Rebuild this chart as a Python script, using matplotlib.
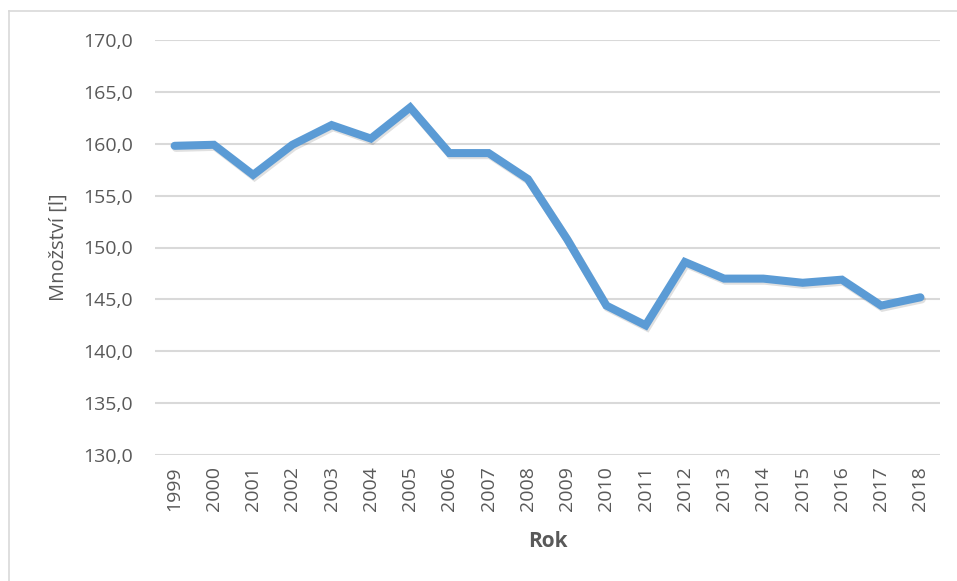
import matplotlib.pyplot as plt
import matplotlib.patheffects as pe
from matplotlib.lines import Line2D
from matplotlib.ticker import FuncFormatter

years = [str(y) for y in range(1999, 2019)]
mnozstvi = [159.8, 159.9, 157.0, 159.9, 161.8, 160.5, 163.5, 159.1, 159.1, 156.6,
            150.8, 144.4, 142.5, 148.6, 147.0, 147.0, 146.6, 146.9, 144.4, 145.2]
y_ticks = [130, 135, 140, 145, 150, 155, 160, 165, 170]

plt.rcParams['font.family'] = ['Open Sans', 'DejaVu Sans']
txt = '#595959'
grid = '#d9d9d9'

fig = plt.figure(figsize=(9.57, 5.81), dpi=100)
ax = fig.add_axes([155/957, 1 - 455/581, 785/957, 415/581])

x = list(range(len(years)))
ax.plot(x, mnozstvi, color='#5b9bd5', lw=5.8, solid_joinstyle='miter',
        solid_capstyle='round', zorder=3,
        path_effects=[pe.SimpleLineShadow(offset=(1, -1.5), shadow_color='k', alpha=0.12),
                      pe.Normal()])

ax.set_xlim(-0.5, len(years) - 0.5)
ax.set_ylim(130, 170)
ax.set_yticks(y_ticks)
ax.yaxis.set_major_formatter(FuncFormatter(lambda v, p: f'{v:.1f}'.replace('.', ',')))
ax.set_xticks(x)
ax.set_xticklabels(years, rotation=90)

ax.grid(axis='y', color=grid, lw=1.5)
ax.set_axisbelow(True)
for s in ax.spines.values():
    s.set_visible(False)
ax.tick_params(length=0, labelsize=14, colors=txt)
ax.tick_params(axis='y', pad=16)
ax.tick_params(axis='x', pad=8)

ax.set_ylabel('Množství [l]', fontsize=14.5, color=txt, labelpad=10)
ax.set_xlabel('Rok', fontsize=15, color=txt, fontweight='bold', labelpad=14)

# outer frame (only top and left edges fall inside the image)
fig.add_artist(Line2D([8.5/957, 1], [1 - 11/581, 1 - 11/581], color=grid, lw=1.2))
fig.add_artist(Line2D([8.5/957, 8.5/957], [0, 1 - 11/581], color=grid, lw=1.2))

fig.savefig('out.png', dpi=100, facecolor='white')
